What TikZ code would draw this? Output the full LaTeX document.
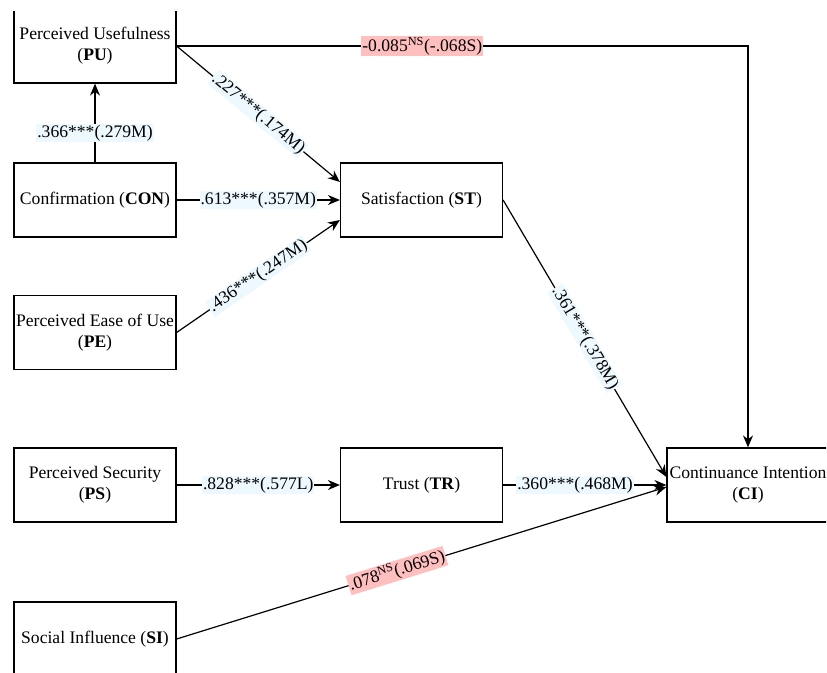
\documentclass[tikz,border=0pt]{standalone}
\usepackage{fontspec}
\setmainfont{Liberation Serif}
\usetikzlibrary{arrows.meta}

\begin{document}
\begin{tikzpicture}[x=1pt, y=-1pt,
    font=\fontsize{17.6}{21}\selectfont,
    construct/.style={draw, line width=1.2pt, minimum width=162pt, minimum height=74pt, inner sep=0pt, align=center},
    link/.style={line width=1.2pt, -{Stealth[length=12pt, width=10pt]}},
    sig/.style={fill=cyan!7, inner sep=1pt},
    ns/.style={fill=red!25, inner sep=1pt}]
    \useasboundingbox (0,0) rectangle (827,672);
    \clip (0,11) rectangle (826,672);
    \node[construct] (PU) at (95,46) {Perceived Usefulness\\(\textbf{PU})};
    \node[construct] (CON) at (95,200) {Confirmation (\textbf{CON})};
    \node[construct] (PE) at (95,332.5) {Perceived Ease of Use\\(\textbf{PE})};
    \node[construct] (PS) at (95,485) {Perceived Security\\(\textbf{PS})};
    \node[construct] (SI) at (95,639) {Social Influence (\textbf{SI})};
    \node[construct] (ST) at (421.5,200) {Satisfaction (\textbf{ST})};
    \node[construct] (TR) at (421.5,485) {Trust (\textbf{TR})};
    \node[construct] (CI) at (748,485) {Continuance Intention\\(\textbf{CI})};
    \draw[link] (CON) -- node[sig, pos=.375] {.366***(.279M)} (PU);
    \draw[link] (PU.east) -| node[ns, pos=.215] {-0.085\textsuperscript{NS}(-.068S)} (CI.north);
    \draw[link] (PU.east) -- node[sig, sloped] {.227***(.174M)} ([yshift=18pt]ST.west);
    \draw[link] (CON) -- node[sig] {.613***(.357M)} (ST);
    \draw[link] (PE.east) -- node[sig, sloped] {.436***(.247M)} ([yshift=-20pt]ST.west);
    \draw[link] (ST.east) -- node[sig, sloped] {.361***(.378M)} ([yshift=8pt]CI.west);
    \draw[link] (PS) -- node[sig] {.828***(.577L)} (TR);
    \draw[link] (TR) -- node[sig, pos=.44] {.360***(.468M)} (CI);
    \draw[link] (SI.east) -- node[ns, sloped, pos=.45] {.078\textsuperscript{NS}(.069S)} ([yshift=-2pt]CI.west);
\end{tikzpicture}
\end{document}
